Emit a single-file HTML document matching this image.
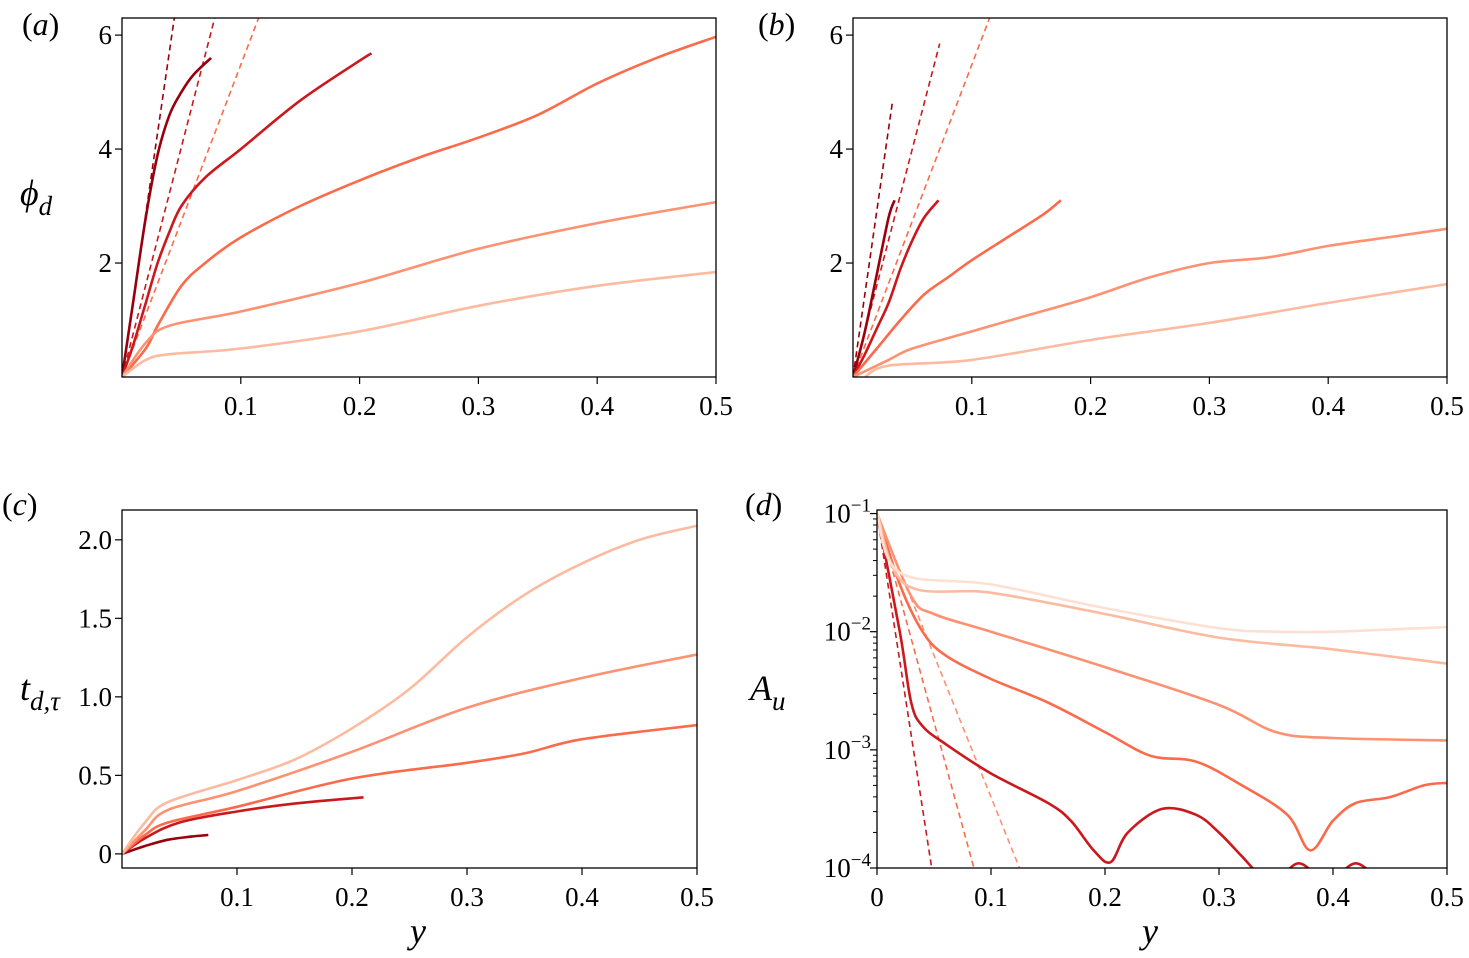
<!DOCTYPE html>
<html><head><meta charset="utf-8"><style>
body{margin:0;background:#fff;}
svg text{font-family:"Liberation Serif","Times New Roman",serif !important;fill:#000;}
</style></head><body>
<svg id="fig" width="1469" height="953" viewBox="0 0 1469 953" xmlns="http://www.w3.org/2000/svg" font-family="Liberation Serif, serif"></svg>
<script>
// ---- data ----
const colorsA = ["#99000d","#cb181d","#fb6a4a","#fc9272","#fcbba1"];
const aX = [[0,0.01,0.02,0.03,0.04,0.05,0.06,0.075],[0,0.01,0.02,0.03,0.04,0.05,0.07,0.1,0.15,0.2,0.21],[0,0.02,0.03,0.05,0.07,0.1,0.15,0.2,0.25,0.3,0.35,0.4,0.45,0.5],[0,0.02,0.04,0.1,0.2,0.3,0.4,0.5],[0,0.02,0.04,0.1,0.2,0.3,0.4,0.5]];
const aY = [[0,1.4,2.8,3.9,4.6,5.0,5.3,5.6],[0,0.6,1.3,2.0,2.55,3.0,3.5,4.0,4.85,5.55,5.68],[0,0.5,0.9,1.6,2.0,2.45,3.0,3.45,3.85,4.2,4.6,5.15,5.6,5.97],[0,0.6,0.9,1.15,1.65,2.25,2.7,3.07],[0,0.3,0.4,0.5,0.8,1.25,1.6,1.84]];
const aDashEndX = [0.044,0.078,0.115];
const aDashEndY = [6.3,6.3,6.3];
const bX = [[0,0.01,0.02,0.03,0.035],[0,0.01,0.02,0.03,0.04,0.05,0.06,0.072],[0,0.02,0.04,0.06,0.08,0.1,0.13,0.16,0.175],[0,0.03,0.05,0.1,0.15,0.2,0.25,0.3,0.35,0.4,0.45,0.5],[0.01,0.03,0.1,0.2,0.3,0.4,0.5]];
const bY = [[0,0.8,1.8,2.8,3.1],[0,0.4,0.85,1.3,1.9,2.4,2.8,3.1],[0,0.5,1.0,1.45,1.75,2.05,2.45,2.85,3.1],[0,0.3,0.5,0.8,1.1,1.4,1.75,2.0,2.1,2.3,2.45,2.6],[0,0.2,0.3,0.65,0.95,1.3,1.63]];
const bDashEndX = [0.033,0.073,0.115];
const bDashEndY = [4.8,5.85,6.3];
const cX = [[0,0.02,0.04,0.06,0.075],[0,0.02,0.05,0.1,0.15,0.21],[0,0.02,0.04,0.1,0.2,0.3,0.35,0.4,0.5],[0,0.02,0.04,0.1,0.2,0.3,0.4,0.5],[0,0.02,0.04,0.1,0.15,0.2,0.25,0.3,0.35,0.4,0.45,0.5]];
const cY = [[0,0.05,0.09,0.11,0.12],[0,0.1,0.2,0.27,0.32,0.36],[0,0.12,0.2,0.3,0.48,0.58,0.64,0.73,0.82],[0,0.15,0.28,0.4,0.65,0.93,1.12,1.27],[0,0.2,0.33,0.47,0.6,0.8,1.05,1.38,1.65,1.85,2.0,2.09]];
const colorsD = ["#cb181d","#fb6a4a","#fc9272","#fcbba1","#fee0d2"];
const dX = [[0,0.02,0.03,0.04,0.06,0.1,0.15,0.17,0.19,0.205,0.22,0.25,0.28,0.3,0.32,0.335,0.35,0.37,0.39,0.4,0.42,0.44],[0,0.02,0.04,0.06,0.1,0.15,0.2,0.24,0.28,0.32,0.36,0.38,0.4,0.42,0.45,0.48,0.5],[0,0.03,0.05,0.1,0.2,0.3,0.35,0.4,0.5],[0,0.025,0.1,0.2,0.3,0.4,0.5],[0,0.02,0.1,0.2,0.3,0.35,0.4,0.5]];
const dLogY = [[-1,-2.0,-2.6,-2.8,-2.95,-3.2,-3.45,-3.6,-3.85,-3.95,-3.7,-3.5,-3.55,-3.7,-3.9,-4.05,-4.1,-3.96,-4.1,-4.1,-3.96,-4.1],[-1,-1.6,-2.0,-2.2,-2.4,-2.6,-2.85,-3.05,-3.1,-3.3,-3.55,-3.85,-3.6,-3.45,-3.4,-3.3,-3.28],[-1,-1.7,-1.85,-2.0,-2.3,-2.62,-2.85,-2.9,-2.92],[-1,-1.6,-1.67,-1.85,-2.05,-2.15,-2.27],[-1,-1.5,-1.6,-1.8,-1.97,-2.0,-2.0,-1.96]];
const dDashEndX = [0.048,0.085,0.125];
const dDashColors = ["#cb181d","#fb6a4a","#fc9272"];
const xTicks = [0.1,0.2,0.3,0.4,0.5];
const xTicksD = [0,0.1,0.2,0.3,0.4,0.5];
const phiTicks = [2,4,6];
const tTicks = [0,0.5,1.0,1.5,2.0];
const dTicks = [-1,-2,-3,-4];

const NS="http://www.w3.org/2000/svg";
const svg=document.getElementById('fig');
function el(tag,attrs,parent){const e=document.createElementNS(NS,tag);for(const k in attrs)e.setAttribute(k,attrs[k]);(parent||svg).appendChild(e);return e;}
let clipId=0;
function panel(name,L,R,T,B,x0,x1,y0,y1){
  const g=el('g',{});
  
  
  const id='clip'+(clipId++);
  const cp=el('clipPath',{id:id},g);el('rect',{x:L,y:T,width:R-L,height:B-T},cp);
  const sx=v=>L+(v-x0)/(x1-x0)*(R-L);
  const sy=v=>B-(v-y0)/(y1-y0)*(B-T);
  const plot=el('g',{'clip-path':'url(#'+id+')'},g);
  return {g,plot,sx,sy,L,R,T,B};
}
function smoothPath(pts){
  if(pts.length<3)return pts.map((p,i)=>(i?'L':'M')+p[0].toFixed(1)+','+p[1].toFixed(1)).join('');
  let d='M'+pts[0][0].toFixed(1)+','+pts[0][1].toFixed(1);
  for(let i=0;i<pts.length-1;i++){
    const p0=pts[Math.max(i-1,0)],p1=pts[i],p2=pts[i+1],p3=pts[Math.min(i+2,pts.length-1)];
    const t=6;
    const c1=[p1[0]+(p2[0]-p0[0])/t,p1[1]+(p2[1]-p0[1])/t];
    const c2=[p2[0]-(p3[0]-p1[0])/t,p2[1]-(p3[1]-p1[1])/t];
    d+='C'+c1[0].toFixed(1)+','+c1[1].toFixed(1)+' '+c2[0].toFixed(1)+','+c2[1].toFixed(1)+' '+p2[0].toFixed(1)+','+p2[1].toFixed(1);
  }
  return d;
}
function line(P,xs,ys,color,w,dash,name){
  const pts=xs.map((x,i)=>[P.sx(x),P.sy(ys[i])]);
  const d=dash?smoothPath(pts.length>2?pts:pts):smoothPath(pts);
  const p=el('path',{d:d,fill:'none',stroke:color,'stroke-width':w,'stroke-linejoin':'round','stroke-linecap':'butt'},P.plot);
  if(dash)p.setAttribute('stroke-dasharray',dash);
  
  
}
function frame(P,xt,xl,yt,yl){
  const r=el('rect',{x:P.L,y:P.T,width:P.R-P.L,height:P.B-P.T,fill:'none',stroke:'#000','stroke-width':1.3},P.g);
  
  
  xt.forEach((v,i)=>{const x=P.sx(v);el('line',{x1:x,x2:x,y1:P.B,y2:P.B+7,stroke:'#000','stroke-width':1.2},P.g);
    const t=el('text',{x:x,y:P.B+38,'font-size':27,'text-anchor':'middle','font-family':'Liberation Serif, serif'},P.g);t.textContent=xl[i];
    
    });
  yt.forEach((v,i)=>{const y=P.sy(v);el('line',{x1:P.L-7,x2:P.L,y1:y,y2:y,stroke:'#000','stroke-width':1.2},P.g);
    if(yl){const t=el('text',{x:P.L-10,y:y+9,'font-size':27,'text-anchor':'end','font-family':'Liberation Serif, serif'},P.g);t.textContent=yl[i];
    
    }});
}
function txt(x,y,html,size,name){const t=el('text',{x:x,y:y,'font-size':size,'font-family':'Liberation Serif, serif'});t.innerHTML=html;
  
  }
const fmt=v=>String(v);

// (a)
let A=panel('panel-a',122,716,18,377,0,0.5,0,6.3);
frame(A,xTicks,xTicks.map(fmt),phiTicks,phiTicks.map(fmt));
aDashEndX.forEach((x,i)=>line(A,[0,x],[0,aDashEndY[i]],colorsA[i],1.6,'6,4','dashed-fit-a-'+i));
aX.forEach((xs,i)=>line(A,xs,aY[i],colorsA[i],2.6,null,'series-a-'+i));
// (b)
let Bp=panel('panel-b',853,1447,18,377,0,0.5,0,6.3);
frame(Bp,xTicks,xTicks.map(fmt),phiTicks,phiTicks.map(fmt));
bDashEndX.forEach((x,i)=>line(Bp,[0,x],[0,bDashEndY[i]],colorsA[i],1.6,'6,4','dashed-fit-b-'+i));
bX.forEach((xs,i)=>line(Bp,xs,bY[i],colorsA[i],2.6,null,'series-b-'+i));
// (c)
let C=panel('panel-c',122,697,510,868,0,0.5,-0.09,2.19);
frame(C,xTicks,xTicks.map(fmt),tTicks,tTicks.map(v=>v===0?'0':v.toFixed(1)));
cX.forEach((xs,i)=>line(C,xs,cY[i],colorsA[i],2.6,null,'series-c-'+i));
// (d)
let D=panel('panel-d',877,1447,510,868,0,0.5,-4,-0.97);
frame(D,xTicksD,xTicksD.map(fmt),dTicks,null);
for(let dec=-4;dec<-1;dec++)for(let m=2;m<=9;m++){const y=D.sy(dec+Math.log10(m));el('line',{x1:D.L-4,x2:D.L,y1:y,y2:y,stroke:'#000','stroke-width':1},D.g);}
dTicks.forEach(v=>{const t=el('text',{x:D.L-6,y:D.sy(v)+9,'font-size':27,'text-anchor':'end','font-family':'Liberation Serif, serif'},D.g);t.innerHTML='10<tspan dy="-11" font-size="19">\u2212'+(-v)+'</tspan>';
  
  });
dDashEndX.forEach((x,i)=>line(D,[0,x],[-1,-4],dDashColors[i],1.6,'6,4','dashed-fit-d-'+i));
dX.forEach((xs,i)=>line(D,xs,dLogY[i],colorsD[i],2.6,null,'series-d-'+i));

// labels
txt(22,35,'(<tspan font-style="italic">a</tspan>)',32,'panel-label-a');
txt(758,35,'(<tspan font-style="italic">b</tspan>)',32,'panel-label-b');
txt(2,515,'(<tspan font-style="italic">c</tspan>)',32,'panel-label-c');
txt(745,515,'(<tspan font-style="italic">d</tspan>)',32,'panel-label-d');
txt(20,205,'<tspan font-style="italic">ϕ</tspan><tspan font-style="italic" dy="10" font-size="27">d</tspan>',36,'y-axis-title-a');
txt(20,700,'<tspan font-style="italic">t</tspan><tspan font-style="italic" dy="10" font-size="27">d,τ</tspan>',36,'y-axis-title-c');
txt(750,700,'<tspan font-style="italic">A</tspan><tspan font-style="italic" dy="10" font-size="27">u</tspan>',36,'y-axis-title-d');
txt(410,943,'<tspan font-style="italic">y</tspan>',36,'x-axis-title-c');
txt(1142,943,'<tspan font-style="italic">y</tspan>',36,'x-axis-title-d');
</script>
</body></html>
